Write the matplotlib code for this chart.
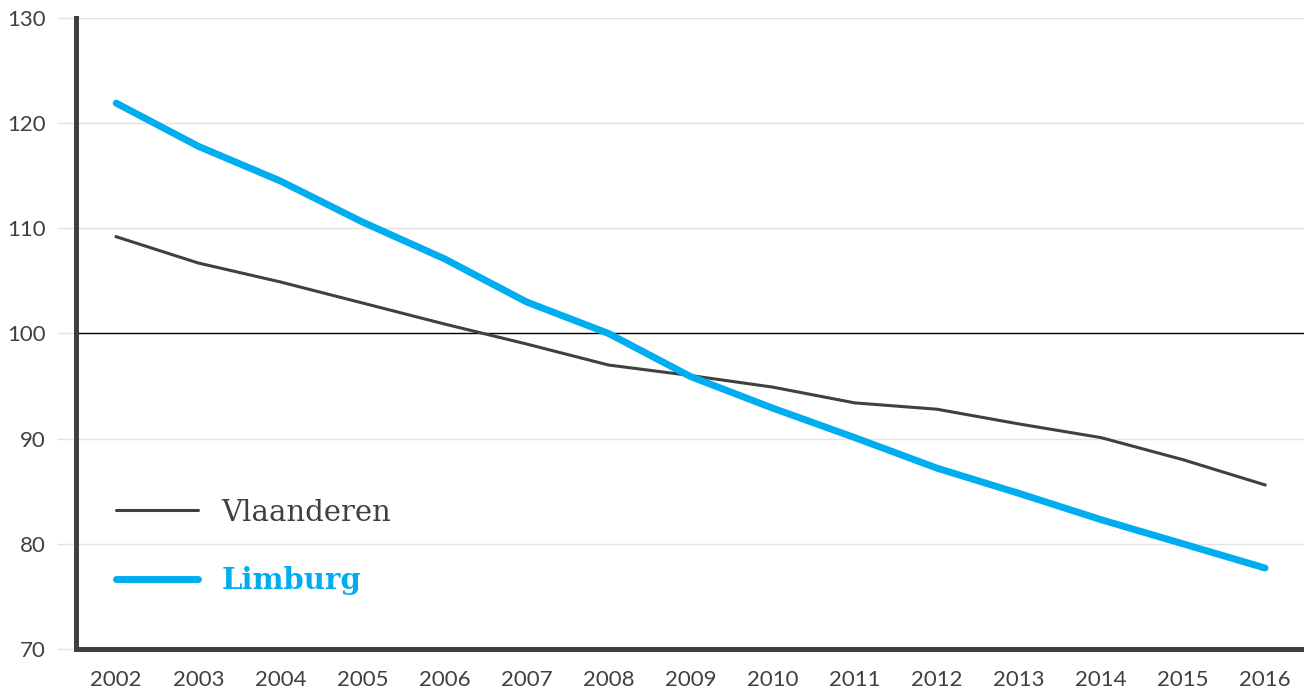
import matplotlib
matplotlib.use("Agg")
import matplotlib.pyplot as plt

years = list(range(2002, 2017))
vlaanderen = [109.2, 106.7, 104.9, 102.9, 100.9, 99.0, 97.0, 96.0, 94.9, 93.4, 92.8, 91.4, 90.1, 88.0, 85.6]
limburg = [121.9, 117.8, 114.5, 110.6, 107.1, 103.0, 100.0, 95.9, 92.9, 90.1, 87.2, 84.8, 82.3, 80.0, 77.7]
yticks = [70, 80, 90, 100, 110, 120, 130]

dark = "#404040"
blue = "#00aeef"

plt.rcParams['font.family'] = ['Lato', 'DejaVu Sans']

fig = plt.figure(figsize=(13.04, 6.91), dpi=100)
ax = fig.add_axes([0.0583, 0.0608, 0.9417, 0.9132])

for t in yticks:
    if t == 100:
        ax.axhline(t, color="black", lw=1, zorder=1)
    elif t != 70:
        ax.axhline(t, color="#e3e3e3", lw=1, zorder=0)

ax.plot(years, vlaanderen, color=dark, lw=2.2, label="Vlaanderen", zorder=3)
ax.plot(years, limburg, color=blue, lw=5, label="Limburg", zorder=4,
        solid_capstyle="round")

ax.set_xlim(2001.51, 2016.475)
ax.set_ylim(70, 130)
ax.set_xticks(years)
ax.set_yticks(yticks)
ax.tick_params(axis="x", length=0, labelsize=16, labelcolor=dark, pad=15)
ax.tick_params(axis="y", length=14, color="#e3e3e3", width=1, labelsize=16,
               labelcolor=dark, pad=8)

for s in ["top", "right"]:
    ax.spines[s].set_visible(False)
for s in ["left", "bottom"]:
    ax.spines[s].set_color(dark)
    ax.spines[s].set_linewidth(3.6)

leg = ax.legend(loc="lower left", bbox_to_anchor=(0.0326, 0.085), frameon=False,
                borderpad=0, borderaxespad=0,
                handlelength=2.8, handletextpad=0.82, labelspacing=1.36,
                prop={'family': 'DejaVu Serif', 'size': 21})
texts = leg.get_texts()
texts[0].set_color(dark)
texts[1].set_color(blue)
texts[1].set_fontweight("bold")
for h in leg.get_lines():
    h.set_solid_capstyle("round")

fig.savefig("out.png", dpi=100)
